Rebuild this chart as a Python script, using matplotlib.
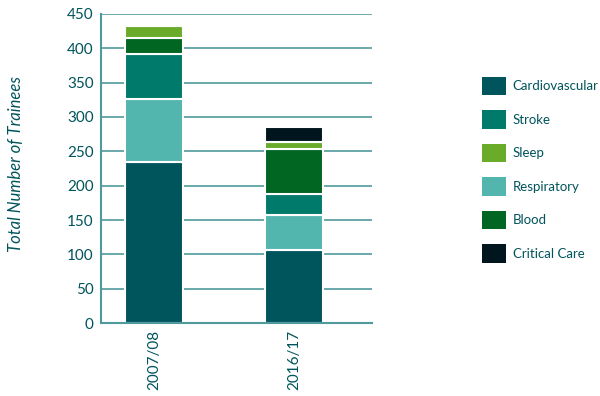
import numpy as np
import matplotlib.pyplot as plt
from matplotlib.patches import Patch

plt.rcParams['font.family'] = ['Lato', 'DejaVu Sans']

# Datos
years = ['2007/08', '2016/17']
cardiovascular = [235, 106]
respiratory = [91, 51]
stroke = [65, 31]
blood = [24, 65]
sleep = [17, 11]
critical_care = [0, 22]

colors = {
    'Cardiovascular': '#00545c',
    'Stroke': '#007a6a',
    'Sleep': '#6aab2a',
    'Respiratory': '#52b5ae',
    'Blood': '#006622',
    'Critical Care': '#00151e',
}
text_color = '#00545c'
line_color = '#4f9a9c'

fig = plt.figure(figsize=(6, 3.96), dpi=100)
ax = fig.add_axes([0.168, 0.184, 0.452, 0.781])

x = np.arange(len(years))
bottom = np.zeros(len(years))
stack = [('Cardiovascular', cardiovascular), ('Respiratory', respiratory),
         ('Stroke', stroke), ('Blood', blood), ('Sleep', sleep),
         ('Critical Care', critical_care)]
for name, vals in stack:
    vals = np.array(vals)
    ax.bar(x, vals, bottom=bottom, width=0.414, color=colors[name],
           edgecolor='white', linewidth=1.5, zorder=2)
    bottom += vals

ax.set_xlim(-0.379, 1.557)
ax.set_ylim(0, 450)
ax.set_yticks(range(0, 451, 50))
ax.yaxis.grid(True, color=line_color, linewidth=1.2, zorder=0)
ax.set_axisbelow(True)
for s in ['top', 'right']:
    ax.spines[s].set_visible(False)
for s in ['left', 'bottom']:
    ax.spines[s].set_color(line_color)
    ax.spines[s].set_linewidth(1.5)
    ax.spines[s].set_zorder(3)
ax.tick_params(length=0, colors=text_color, labelsize=11, pad=5)
ax.set_xticks(x)
ax.set_xticklabels(years, rotation=90)

fig.text(16 / 600, 0.586, 'Total Number of Trainees', rotation=90,
         style='italic', color=text_color, fontsize=12,
         ha='center', va='center')

order = ['Cardiovascular', 'Stroke', 'Sleep', 'Respiratory', 'Blood', 'Critical Care']
handles = [Patch(facecolor=colors[n], edgecolor='none') for n in order]
leg = fig.legend(handles, order, loc='upper left', bbox_to_anchor=(0.803, 0.806),
                 frameon=False, fontsize=9.5, handlelength=1.85, handleheight=1.8,
                 labelspacing=1.12, handletextpad=0.5, borderpad=0,
                 borderaxespad=0)
for t in leg.get_texts():
    t.set_color(text_color)

fig.savefig('out.png', dpi=100)
